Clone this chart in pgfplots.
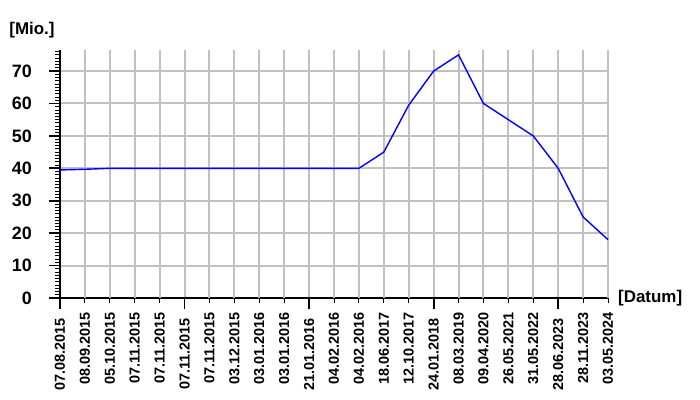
\documentclass[border=0pt]{standalone}
\usepackage{fontspec}
\setmainfont{Liberation Sans}
\usepackage{pgfplots}
\pgfplotsset{compat=1.18}
\definecolor{gridgray}{RGB}{192,192,192}
\definecolor{lineblue}{RGB}{0,0,255}
\begin{document}
\begin{tikzpicture}
\begin{axis}[
    name=ax,
    scale only axis,
    width=548bp, height=248bp,
    xmin=0, xmax=22, ymin=0, ymax=76.5,
    axis x line=bottom, axis y line=left,
    axis line style={-, line width=1.8bp, black},
    /pgf/number format/assume math mode=true,
    tick align=outside,
    major tick length=11bp,
    minor tick length=5bp,
    tick style={black, line width=1.8bp},
    minor tick style={black, line width=0.9bp},
    % main date ticks (every 5th) and the others as extra ticks
    xtick={0,5,10,15,20},
    xticklabels={07.08.2015,07.11.2015,21.01.2016,24.01.2018,28.06.2023},
    extra x ticks={1,2,3,4,6,7,8,9,11,12,13,14,16,17,18,19,21,22},
    extra x tick labels={08.09.2015,05.10.2015,07.11.2015,07.11.2015,07.11.2015,03.12.2015,03.01.2016,03.01.2016,04.02.2016,04.02.2016,18.06.2017,12.10.2017,08.03.2019,09.04.2020,26.05.2021,31.05.2022,28.11.2023,03.05.2024},
    extra x tick style={
        major tick length=5bp,
        tick style={black, line width=0.9bp},
        grid style={gridgray, line width=1bp},
    },
    ytick={0,10,...,70},
    minor ytick={0,1,...,76},
    xmajorgrids, ymajorgrids,
    major grid style={gridgray, line width=2bp},
    xticklabel style={rotate=90, anchor=east, inner sep=0pt, xshift=-9bp,
        font=\bfseries\fontsize{14.5}{14.5}\selectfont},
    yticklabel shift=17bp,
    yticklabel style={inner sep=0pt,
        font=\bfseries\fontsize{18}{18}\selectfont},
    xlabel={[Datum]},
    ylabel={[Mio.]},
    every axis x label/.style={at={(rel axis cs:1,0)}, anchor=west, inner sep=0pt,
        xshift=10bp, font=\bfseries\fontsize{17}{17}\selectfont},
    every axis y label/.style={at={(rel axis cs:0,1)}, anchor=center, inner sep=0pt,
        xshift=-28bp, yshift=20bp, font=\bfseries\fontsize{17}{17}\selectfont},
    clip=false,
]
\addplot[lineblue, line width=1.4bp] coordinates {
    (0,39.5) (1,39.7) (2,40) (3,40) (4,40) (5,40) (6,40) (7,40)
    (8,40) (9,40) (10,40) (11,40) (12,40) (13,45) (14,59.5)
    (15,70) (16,75) (17,60) (18,55) (19,50) (20,40) (21,25) (22,18)
};
\end{axis}
\pgfresetboundingbox
\path (ax.south west) ++(-60bp,-102bp) rectangle ++(700bp,400bp);
\end{tikzpicture}
\end{document}
